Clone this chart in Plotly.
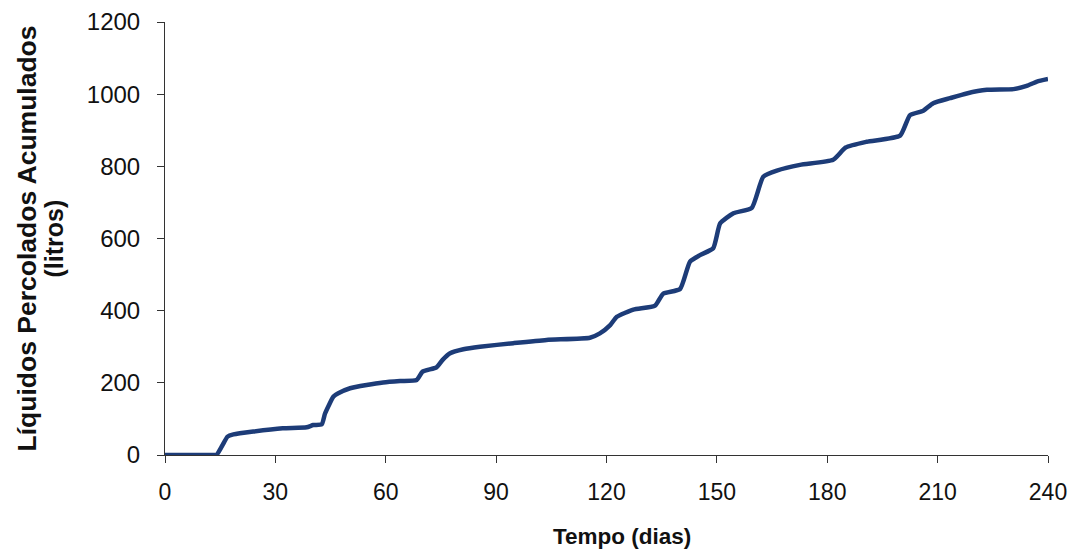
import plotly.graph_objects as go

dias = [0, 13.6, 14, 15.5, 17, 18.6, 24, 32, 38.5, 40.3, 42.6, 43.5, 45.8, 47.1, 50.3, 54.8,
        59.3, 63.9, 68.4, 70, 73.8, 75.4, 77.5, 81.1, 85.6, 94.7, 103.7, 115.5, 118.2,
        121, 122.8, 127.3, 133.2, 135.4, 140, 142.7, 145.4, 149, 150.9, 154.5, 159.5,
        162.6, 166.3, 172.6, 181.6, 185, 190.7, 199.8, 202.5, 206.1, 208.8, 213.4,
        217.9, 223.4, 230.6, 234.2, 237, 240]
litros = [0, 0, 0, 25, 51, 57, 65, 74, 77, 83, 85, 115, 162, 171, 185, 194,
          201, 205, 208, 231, 243, 263, 282, 293, 300, 310, 319, 325, 337,
          360, 383, 403, 414, 447, 460, 536, 554, 573, 642, 670, 685,
          771, 788, 804, 818, 852, 868, 885, 942, 954, 975, 989,
          1002, 1012, 1014, 1023, 1035, 1042]

x_ticks = [0, 30, 60, 90, 120, 150, 180, 210, 240]
y_ticks = [0, 200, 400, 600, 800, 1000, 1200]

x_title = "Tempo (dias)"
y_title_1 = "Líquidos Percolados Acumulados"
y_title_2 = "(litros)"

fig = go.Figure()
fig.add_trace(go.Scatter(x=dias, y=litros, mode="lines",
                         line=dict(color="#1d3c78", width=4.5, shape="spline", smoothing=0.5),
                         showlegend=False))

font = "Arial, 'Liberation Sans', sans-serif"
fig.update_layout(
    width=1069, height=551,
    margin=dict(l=157, r=29, t=14, b=104),
    paper_bgcolor="white", plot_bgcolor="white",
    font=dict(family=font, size=24, color="#111"),
    xaxis=dict(range=[0, 240], tickvals=x_ticks, showgrid=False, zeroline=False,
               automargin=False,
               showline=True, linecolor="#333", linewidth=1,
               ticks="outside", ticklen=7, tickcolor="#333",
               ticklabelstandoff=9, tickfont=dict(size=23)),
    yaxis=dict(range=[0, 1200], tickvals=y_ticks, showgrid=False, zeroline=False,
               automargin=False,
               showline=True, linecolor="#333", linewidth=1,
               ticks="outside", ticklen=7, tickcolor="#333",
               ticklabelstandoff=12, tickfont=dict(size=24)),
    annotations=[
        dict(text="<b>" + x_title + "</b>", xref="paper", yref="paper", x=0.5, y=0,
             xanchor="center", yanchor="middle", xshift=15, yshift=-81, showarrow=False,
             font=dict(size=22.5)),
        dict(text="<b>" + y_title_1 + "</b>", xref="paper", yref="paper", x=0, y=0.5,
             xanchor="center", yanchor="middle", xshift=-139, textangle=-90,
             showarrow=False, font=dict(size=26.5)),
        dict(text="<b>" + y_title_2 + "</b>", xref="paper", yref="paper", x=0, y=0.5,
             xanchor="center", yanchor="middle", xshift=-112, textangle=-90,
             showarrow=False, font=dict(size=25)),
    ],
)

fig.write_html("out.html")
